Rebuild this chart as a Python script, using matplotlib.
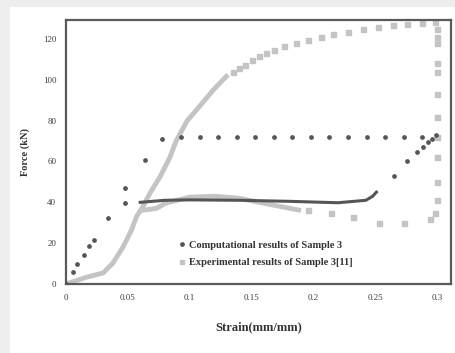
import numpy as np
import matplotlib
matplotlib.use("Agg")
import matplotlib.pyplot as plt
from matplotlib.patches import Rectangle

# Computational results (sparse markers)
comp_strain = [0, 0.0056, 0.009, 0.0145, 0.0185, 0.0226, 0.034, 0.048, 0.048, 0.064, 0.078,
               0.093, 0.108, 0.123, 0.138, 0.153, 0.168, 0.183, 0.198, 0.213, 0.228,
               0.243, 0.258, 0.273, 0.288,
               0.265, 0.276, 0.284, 0.289, 0.293, 0.296, 0.299]
comp_force = [0, 5.9, 9.8, 14.2, 18.6, 21.6, 32.4, 39.7, 47, 60.8, 71,
              72, 72, 72, 72, 72, 72, 72, 72, 72, 72,
              72, 72, 72, 72,
              53, 60, 64.5, 67, 69.6, 71.2, 73]
# Computational results (dense part, looks like a thick line)
comp_line_strain = [0.06, 0.08, 0.10, 0.14, 0.18, 0.22, 0.2425, 0.248, 0.251]
comp_line_force = [40, 41, 41.2, 41, 40.5, 39.8, 41, 43, 45]

# Experimental results (dense parts)
exp_rise_strain = [0, 0.017, 0.030, 0.038, 0.046, 0.053, 0.057, 0.062, 0.068, 0.076,
                   0.084, 0.089, 0.098, 0.108, 0.119, 0.131]
exp_rise_force = [0, 3.4, 5.4, 10.3, 18, 26.5, 33, 37.7, 44.6, 52.5,
                  62, 70, 80, 87, 95, 102.5]
exp_low_strain = [0.060, 0.073, 0.081, 0.100, 0.120, 0.140, 0.167, 0.190]
exp_low_force = [36, 37, 39.7, 42.5, 43, 42, 38.7, 36]
# Experimental results (sparse markers)
exp_pts_strain = [0.135, 0.140, 0.145, 0.150, 0.156, 0.162, 0.168, 0.176, 0.186, 0.196,
                  0.206, 0.216, 0.228, 0.240, 0.252, 0.264, 0.276, 0.288, 0.298,
                  0.300, 0.300, 0.300, 0.300, 0.300, 0.300, 0.300, 0.300, 0.300, 0.300, 0.300,
                  0.298, 0.294, 0.273, 0.253, 0.232, 0.214, 0.196]
exp_pts_force = [104, 106, 107.5, 109.5, 111.5, 113, 114.5, 116.5, 118, 119.5,
                 121, 122.3, 123.5, 124.8, 125.8, 126.7, 127.4, 128, 128.5,
                 125, 121, 118, 108, 104, 93, 82, 72, 62, 50, 41,
                 35, 32, 30, 30, 33, 35, 36]

x_ticks = [0, 0.05, 0.1, 0.15, 0.2, 0.25, 0.3]
x_tick_labels = ["0", "0.05", "0.1", "0.15", "0.2", "0.25", "0.3"]
y_ticks = [0, 20, 40, 60, 80, 100, 120]

dark = "#555555"
light = "#c4c4c4"

fig = plt.figure(figsize=(4.56, 3.53), dpi=100, facecolor="#eeeeee")
fig.patches.append(Rectangle((10 / 456, 0), 1, (353 - 7) / 353, transform=fig.transFigure,
                             facecolor="white", edgecolor="none", zorder=-10))

ax = fig.add_axes([66 / 456, (353 - 284) / 353, 385 / 456, 264 / 353])
ax.set_zorder(5)
ax.set_facecolor("white")

ax.plot(exp_rise_strain, exp_rise_force, color=light, lw=3.5, solid_capstyle="butt", zorder=2)
ax.plot(exp_low_strain, exp_low_force, color=light, lw=3.5, solid_capstyle="butt", zorder=2)
ax.plot(exp_pts_strain, exp_pts_force, ls="none", marker="s", ms=3.6, color=light, zorder=2)

ax.plot(comp_line_strain, comp_line_force, color=dark, lw=2.2, zorder=3)
ax.plot(comp_strain, comp_force, ls="none", marker="o", ms=2.4, color=dark, zorder=3)

ax.set_xlim(0, 0.3113)
ax.set_ylim(0, 129.3)
ax.set_xticks(x_ticks)
ax.set_xticklabels(x_tick_labels)
ax.set_yticks(y_ticks)
ax.tick_params(length=0, labelsize=6.5, labelcolor="#404040", pad=7)
for lab in ax.get_xticklabels() + ax.get_yticklabels():
    lab.set_family("Liberation Serif")

for s in ax.spines.values():
    s.set_color("#5a5a5a")
    s.set_linewidth(1.6)

ax.set_xlabel("Strain(mm/mm)", family="Liberation Serif", fontweight="bold",
              fontsize=9, color="#333333", labelpad=14)
ax.set_ylabel("Force (kN)", family="Liberation Serif", fontweight="bold",
              fontsize=7.5, color="#333333", labelpad=9)

h1, = ax.plot([], [], ls="none", marker="o", ms=2.4, color=dark)
h2, = ax.plot([], [], ls="none", marker="s", ms=3.5, color=light)
ax.legend([h1, h2], ["Computational results of Sample 3", "Experimental results of Sample 3[11]"],
          loc="upper left", bbox_to_anchor=(0.27, 0.20), frameon=False,
          handlelength=0.6, handletextpad=0.3, labelspacing=0.8,
          prop={"family": "Liberation Serif", "weight": "bold", "size": 7.5},
          labelcolor="#333333")

fig.savefig("out.png", dpi=100, facecolor=fig.get_facecolor())
